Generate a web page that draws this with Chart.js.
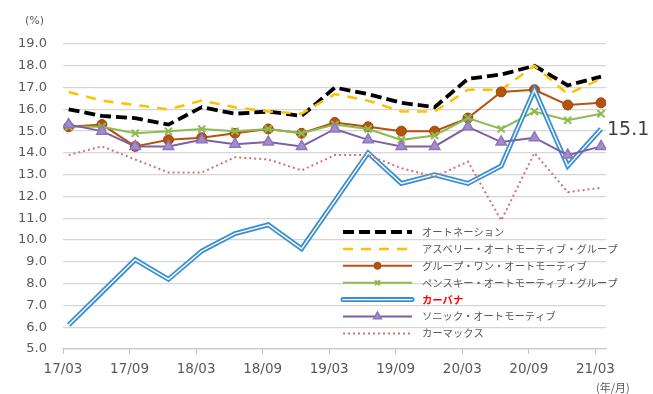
<!DOCTYPE html>
<html>
<head>
<meta charset="utf-8">
<script src="https://cdn.jsdelivr.net/npm/chart.js@4.4.1/dist/chart.umd.min.js"></script>
<style>
	html, body { margin: 0; padding: 0; background: #fff; }
</style>
</head>
<body>
<canvas id="marginChart" width="653" height="394"></canvas>
<script>
// quarters (yy/mm)
const quarters = ['17/03', '17/06', '17/09', '17/12', '18/03', '18/06', '18/09', '18/12',
	'19/03', '19/06', '19/09', '19/12', '20/03', '20/06', '20/09', '20/12', '21/03'];

// gross margin (%)
const autoNation = [16.0, 15.7, 15.6, 15.3, 16.1, 15.8, 15.9, 15.7, 17.0, 16.7, 16.3, 16.1, 17.4, 17.6, 18.0, 17.1, 17.5];
const asbury = [16.8, 16.4, 16.2, 16.0, 16.4, 16.1, 15.9, 15.8, 16.7, 16.4, 15.9, 15.9, 16.9, 16.9, 18.0, 16.7, 17.4];
const group1 = [15.2, 15.3, 14.3, 14.6, 14.7, 14.9, 15.1, 14.9, 15.4, 15.2, 15.0, 15.0, 15.6, 16.8, 16.9, 16.2, 16.3];
const penske = [15.2, 15.2, 14.9, 15.0, 15.1, 15.0, 15.1, 14.9, 15.3, 15.1, 14.6, 14.8, 15.6, 15.1, 15.9, 15.5, 15.8];
const carvana = [6.1, 7.6, 9.1, 8.2, 9.5, 10.3, 10.7, 9.6, 11.8, 14.0, 12.6, 13.0, 12.6, 13.4, 16.9, 13.4, 15.1];
const sonic = [15.3, 15.0, 14.3, 14.3, 14.6, 14.4, 14.5, 14.3, 15.1, 14.6, 14.3, 14.3, 15.2, 14.5, 14.7, 13.9, 14.3];
const carmax = [13.9, 14.3, 13.7, 13.1, 13.1, 13.8, 13.7, 13.2, 13.9, 13.9, 13.3, 12.9, 13.6, 10.9, 14.0, 12.2, 12.4];

const seriesNames = ['オートネーション', 'アスベリー・オートモーティブ・グループ', 'グループ・ワン・オートモーティブ',
	'ペンスキー・オートモーティブ・グループ', 'カーバナ', 'ソニック・オートモーティブ', 'カーマックス'];

const CARVANA = 4;
const numFont = '"DejaVu Sans", Verdana, sans-serif';
const jpFont = '"Noto Sans CJK JP", sans-serif';

const toPoints = (arr) => arr.map((v, i) => ({x: i, y: v}));

const datasets = [
	{data: autoNation, borderColor: '#000000', borderWidth: 3.8, borderDash: [11, 5], pointRadius: 0},
	{data: asbury, borderColor: '#FFC000', borderWidth: 2.5, borderDash: [10, 8], pointRadius: 0},
	{data: group1, borderColor: '#B5520F', borderWidth: 2, pointRadius: 5, pointStyle: 'circle',
		pointBackgroundColor: '#B5520F', pointBorderColor: '#9E470C', pointBorderWidth: 1},
	{data: penske, borderColor: '#8DBB4F', borderWidth: 2, pointRadius: 5, pointStyle: 'crossRot',
		pointBorderColor: '#8DBB4F', pointBorderWidth: 2},
	{data: carvana, borderColor: '#3A8FD2', borderWidth: 5, pointRadius: 0},
	{data: sonic, borderColor: '#7D5FA6', borderWidth: 2, pointRadius: 6, pointStyle: 'triangle',
		pointBackgroundColor: '#A28DCC', pointBorderColor: '#8E74BC', pointBorderWidth: 1.5},
	{data: carmax, borderColor: '#D4707C', borderWidth: 2, borderDash: [2, 3], pointRadius: 0}
].map((d, i) => Object.assign(d, {
	label: seriesNames[i],
	data: toPoints(d.data),
	tension: 0,
	fill: false,
	order: 6 - i // later series on top, like the original
}));

// white core of the double line (Carvana), label of last value, legend and unit texts
const extras = {
	id: 'extras',
	afterDatasetDraw(chart, args) {
		if (args.index !== CARVANA) return;
		const pts = args.meta.data;
		const ctx = chart.ctx;
		ctx.save();
		ctx.strokeStyle = '#ffffff';
		ctx.lineWidth = 1.4;
		ctx.beginPath();
		pts.forEach((p, i) => i ? ctx.lineTo(p.x, p.y) : ctx.moveTo(p.x, p.y));
		ctx.stroke();
		ctx.restore();
	},
	afterDraw(chart) {
		const ctx = chart.ctx;
		ctx.save();

		// last Carvana value
		const last = chart.getDatasetMeta(CARVANA).data[carvana.length - 1];
		ctx.fillStyle = '#404040';
		ctx.font = '19px ' + numFont;
		ctx.textAlign = 'left';
		ctx.textBaseline = 'middle';
		ctx.fillText(carvana[carvana.length - 1].toFixed(1), last.x + 6, last.y + 1);

		// units
		ctx.fillStyle = '#595959';
		ctx.font = '11px ' + numFont;
		ctx.fillText('(%)', 25, 21);
		ctx.font = '11px ' + jpFont;
		ctx.fillText('(年/月)', 596, 388);

		// legend
		const lx0 = 343, lx1 = 412, tx = 422, ly0 = 232, step = 16.9;
		chart.data.datasets.forEach((ds, i) => {
			const y = ly0 + i * step;
			ctx.save();
			ctx.beginPath();
			ctx.moveTo(lx0, y);
			ctx.lineTo(lx1, y);
			ctx.strokeStyle = ds.borderColor;
			ctx.lineWidth = ds.borderWidth;
			ctx.setLineDash(ds.borderDash || []);
			if (i === CARVANA) ctx.lineCap = 'round';
			ctx.stroke();
			if (i === CARVANA) {
				ctx.beginPath();
				ctx.moveTo(lx0, y);
				ctx.lineTo(lx1, y);
				ctx.strokeStyle = '#ffffff';
				ctx.lineWidth = 1.4;
				ctx.stroke();
			}
			ctx.restore();
			if (ds.pointRadius) {
				ctx.save();
				ctx.fillStyle = ds.pointBackgroundColor || 'rgba(0,0,0,0)';
				ctx.strokeStyle = ds.pointBorderColor;
				ctx.lineWidth = ds.pointBorderWidth;
				Chart.helpers.drawPoint(ctx, {
					pointStyle: ds.pointStyle,
					radius: ds.pointRadius - 1.5,
					rotation: 0,
					borderWidth: ds.pointBorderWidth
				}, (lx0 + lx1) / 2, y);
				ctx.restore();
			}
			ctx.fillStyle = i === CARVANA ? '#FF0000' : '#595959';
			ctx.font = (i === CARVANA ? 'bold ' : '') + '10.3px ' + jpFont;
			ctx.textAlign = 'left';
			ctx.textBaseline = 'middle';
			ctx.fillText(ds.label, tx, y);
		});
		ctx.restore();
	}
};

const marginChart = new Chart(document.getElementById('marginChart'), {
	type: 'line',
	data: {datasets: datasets},
	options: {
		responsive: false,
		animation: false,
		devicePixelRatio: 1,
		layout: {padding: {top: 44, right: 47, left: 0, bottom: 0}},
		plugins: {
			legend: {display: false},
			tooltip: {enabled: false}
		},
		scales: {
			x: {
				type: 'linear',
				min: -0.17,
				max: 16.15,
				afterBuildTicks: (scale) => {
					scale.ticks = quarters.filter((q, i) => i % 2 === 0).map((q, k) => ({value: 2 * k - 0.17}));
				},
				afterFit: (scale) => { scale.height = 45; },
				grid: {drawOnChartArea: false, drawTicks: true, tickLength: 5, color: '#BFBFBF'},
				border: {display: true, color: '#C8C8C8', width: 1.2},
				ticks: {
					padding: 7,
					color: '#595959',
					font: {family: numFont, size: 13.5},
					maxRotation: 0,
					callback: (v) => quarters[Math.round(v)]
				}
			},
			y: {
				min: 5,
				max: 19,
				afterFit: (scale) => { scale.width = 63; },
				grid: {drawTicks: false, color: '#D6D6D6', lineWidth: 1.3},
				border: {display: false},
				ticks: {
					stepSize: 1,
					padding: 16,
					color: '#595959',
					font: {family: numFont, size: 13},
					callback: (v) => v.toFixed(1)
				}
			}
		}
	},
	plugins: [extras]
});
</script>
</body>
</html>
